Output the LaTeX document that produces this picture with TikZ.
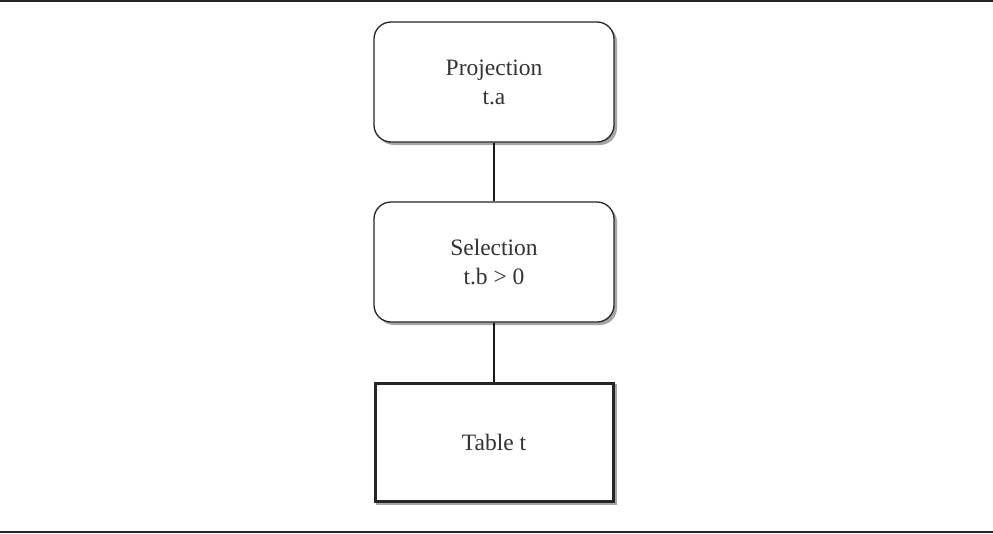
\documentclass[tikz,border=0pt]{standalone}
\usepackage{fontspec}
\setmainfont{Liberation Serif}
\begin{document}
\begin{tikzpicture}[x=1pt,y=-1pt,
  opbox/.style={draw=black!85, line width=1.3pt, rounded corners=17pt, fill=white,
    minimum width=240pt, minimum height=120pt, align=center,
    font=\fontsize{23.5}{29}\selectfont, text=black!80},
  tablebox/.style={draw=black!85, line width=3pt, fill=white,
    minimum width=238pt, minimum height=118pt, align=center,
    font=\fontsize{23.5}{29}\selectfont, text=black!80},
  shade/.style={fill=black!35},
  link/.style={draw=black!90, line width=1.2pt}]
\useasboundingbox (0,0) rectangle (993,533);
\fill[white] (0,0) rectangle (993,533);
% shadows
\fill[shade, rounded corners=17pt] (377,25) rectangle (617,145);
\fill[shade, rounded corners=17pt] (377,205) rectangle (617,325);
\fill[shade] (376,384) rectangle (617,505);
\node[opbox] (proj) at (494,82) {Projection\\t.a};
\node[opbox] (sel) at (494,262) {Selection\\t.b > 0};
\node[tablebox] (tab) at (494,442) {Table t};
\draw[link] (proj.south) -- (sel.north);
\draw[link] (sel.south) -- (tab.north);
% rules
\coordinate (tl) at (0,0.8);
\coordinate (tr) at (993,0.8);
\coordinate (bl) at (0,532);
\coordinate (br) at (993,532);
\draw[black!85, line width=1.6pt] (tl) -- (tr);
\draw[black!85, line width=2.2pt] (bl) -- (br);
\end{tikzpicture}
\end{document}
